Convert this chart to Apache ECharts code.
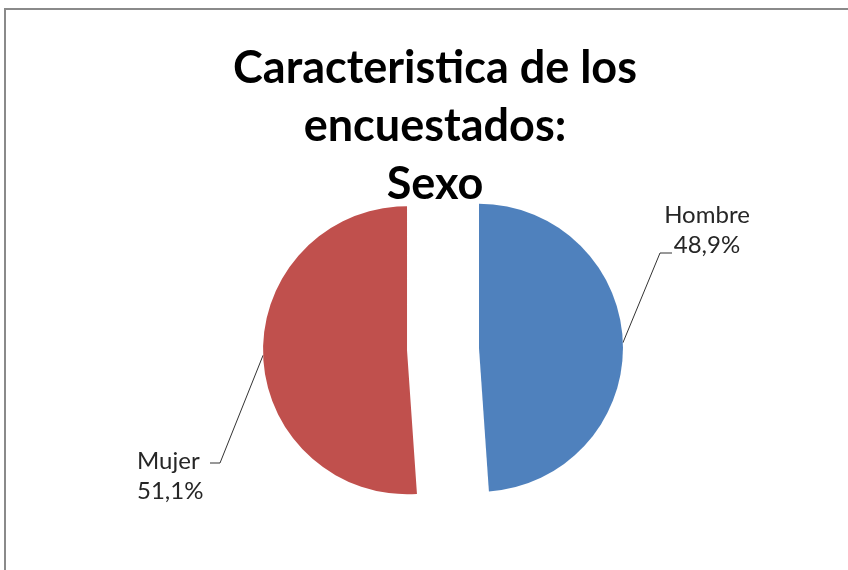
<!DOCTYPE html>
<html>
<head>
<meta charset="utf-8">
<script src="https://cdn.jsdelivr.net/npm/echarts@6/dist/echarts.min.js"></script>
<style>
  html, body { margin: 0; padding: 0; background: #fff; }
  #chart { width: 848px; height: 570px; }
</style>
</head>
<body>
<div id="chart"></div>
<script>
// datos de la encuesta
const categorias = ['Hombre', 'Mujer'];
const porcentajes = [48.9, 51.1];
const colores = ['#4F81BD', '#C0504D'];

// centro del pastel, radio y separacion de las porciones
const centro = [443, 349];
const radio = 144;
const separacion = 36;

// donde van las etiquetas (x, y de la caja, alineacion)
const etiquetas = [
    { x: 707, y: 200, align: 'center' },
    { x: 137, y: 446, align: 'left' }
];

const chart = echarts.init(document.getElementById('chart'));

// cada porcion en su propia serie para poder separarla (explotada)
const total = porcentajes.reduce((a, b) => a + b, 0);
let acumulado = 0;
const series = categorias.map((cat, i) => {
    const medio = (acumulado + porcentajes[i] / 2) / total * Math.PI * 2;
    acumulado += porcentajes[i];
    const c = [
        centro[0] + separacion * Math.sin(medio),
        centro[1] - separacion * Math.cos(medio)
    ];
    const datos = categorias.map((nombre, j) => {
        if (j === i) {
            return { name: nombre, value: porcentajes[j], itemStyle: { color: colores[j] } };
        }
        return {
            name: nombre,
            value: porcentajes[j],
            itemStyle: { color: 'rgba(0,0,0,0)' },
            label: { show: false },
            labelLine: { show: false }
        };
    });
    return {
        type: 'pie',
        center: c,
        radius: radio,
        startAngle: 90,
        clockwise: true,
        silent: true,
        data: datos,
        label: {
            show: true,
            position: 'outside',
            fontFamily: 'Lato',
            fontSize: 24,
            lineHeight: 30,
            color: '#262626',
            formatter: p => p.name + '\n' + p.value.toFixed(1).replace('.', ',') + '%'
        },
        labelLine: {
            show: true,
            lineStyle: { color: '#333', width: 1 }
        },
        labelLayout: function (params) {
            const e = etiquetas[params.dataIndex];
            const inicio = params.labelLinePoints ? params.labelLinePoints[0] : [0, 0];
            let codo, fin;
            if (params.dataIndex === 0) {
                fin = [e.x - 35, e.y + 53];
                codo = [fin[0] - 12, fin[1]];
            } else {
                fin = [e.x + 73, e.y + 17];
                codo = [fin[0] + 10, fin[1]];
            }
            return {
                x: e.x,
                y: e.y,
                align: e.align,
                verticalAlign: 'top',
                labelLinePoints: [inicio, codo, fin]
            };
        }
    };
});

const option = {
    backgroundColor: '#fff',
    animation: false,
    title: {
        text: 'Caracteristica de los\nencuestados:\nSexo',
        left: 430,
        top: 34,
        textAlign: 'center',
        textStyle: {
            fontFamily: 'Lato',
            fontWeight: 'bold',
            fontSize: 45,
            lineHeight: 58,
            color: '#000'
        }
    },
    graphic: [{
        type: 'rect',
        shape: { x: 5, y: 9, width: 900, height: 600 },
        style: { fill: 'none', stroke: '#8a8a8a', lineWidth: 2 },
        silent: true
    }],
    series: series
};

chart.setOption(option);
</script>
</body>
</html>
